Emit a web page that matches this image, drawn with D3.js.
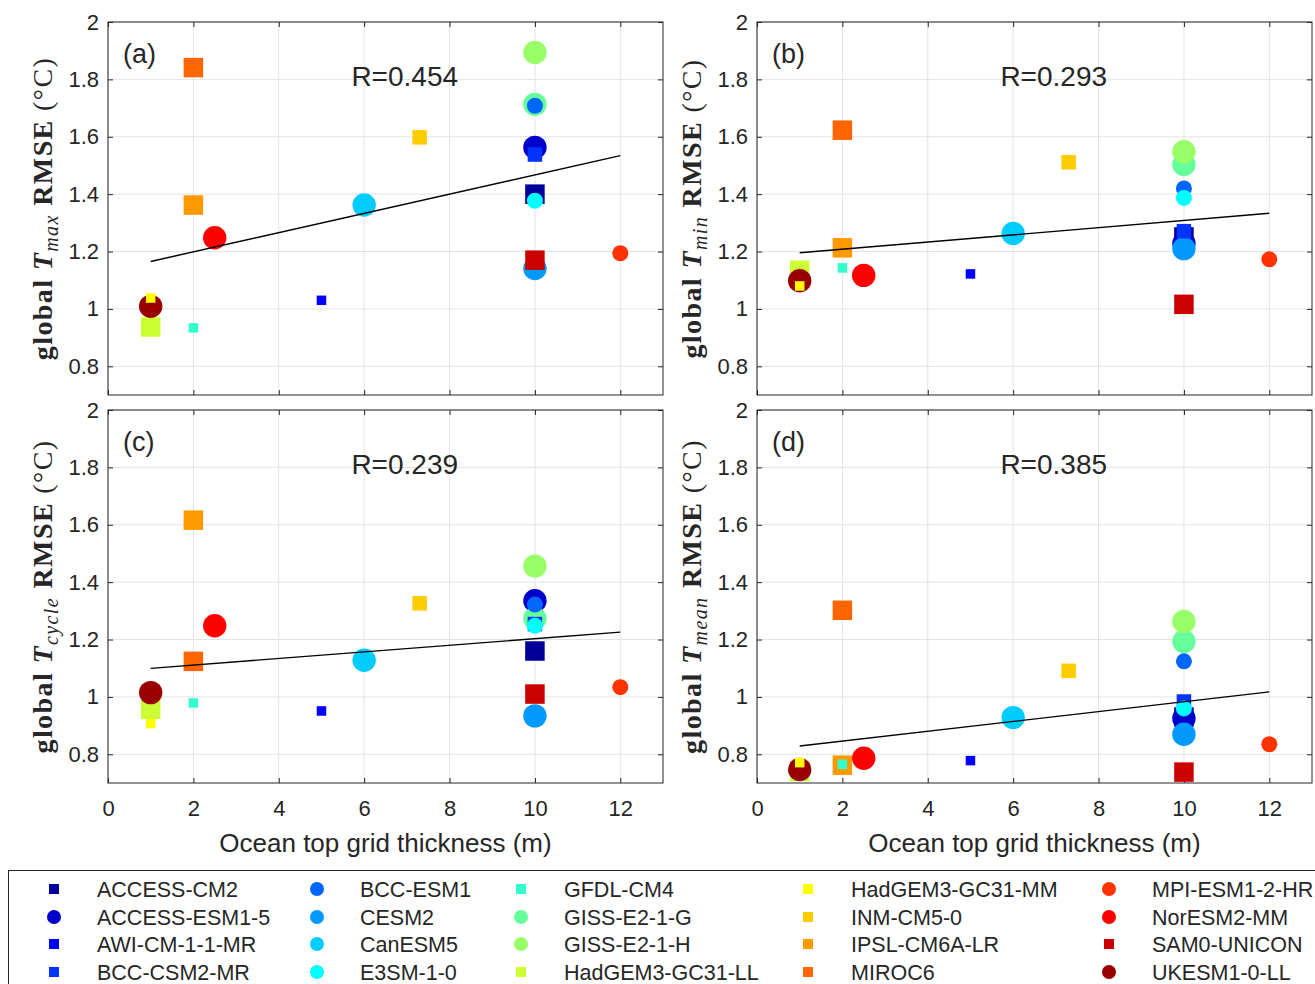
<!DOCTYPE html>
<html>
<head>
<meta charset="utf-8">
<script src="https://cdn.jsdelivr.net/npm/d3@7"></script>
<style>
  body { margin: 0; background: #fff; }
  text { font-family: "Liberation Sans", Arial, sans-serif; fill: #262626; }
  .ytitle { font-family: "Liberation Serif", "DejaVu Serif", serif; fill: #262626; letter-spacing: 1.4px; }
</style>
</head>
<body>
<div id="chart"></div>
<script>
// models, ocean top layer thickness (m), marker shape, size class (3 = big, 1 = small)
var models = ["ACCESS-CM2","ACCESS-ESM1-5","AWI-CM-1-1-MR","BCC-CSM2-MR","BCC-ESM1",
  "CESM2","CanESM5","E3SM-1-0","GFDL-CM4","GISS-E2-1-G","GISS-E2-1-H","HadGEM3-GC31-LL",
  "HadGEM3-GC31-MM","INM-CM5-0","IPSL-CM6A-LR","MIROC6","MPI-ESM1-2-HR","NorESM2-MM",
  "SAM0-UNICON","UKESM1-0-LL"];
var thickness = [10,10,5,10,10,10,6,10,2,10,10,1,1,7.3,2,2,12,2.5,10,1];
var shapes = ["s","o","s","s","o","o","o","o","s","o","o","s","s","s","s","s","o","o","s","o"];
var sizeClass = [3,3,1,2,2,3,3,2,1,3,3,3,1,2,3,3,2,3,3,3];
var colors = ["#000099","#0000cc","#0000ff","#0033ff","#0066ff","#0099ff","#00ccff","#00ffff",
  "#33ffcc","#66ff99","#99ff66","#ccff33","#ffff00","#ffcc00","#ff9900","#ff6600","#ff3300",
  "#ff0000","#cc0000","#990000"];

// RMSE (degC) per panel
var rmseTmax   = [1.40,1.563,1.03,1.538,1.708,1.141,1.362,1.377,0.934,1.713,1.894,0.937,1.038,1.598,1.362,1.841,1.194,1.248,1.17,1.009];
var rmseTmin   = [1.251,1.228,1.122,1.271,1.42,1.21,1.263,1.387,1.143,1.503,1.548,1.135,1.08,1.511,1.213,1.623,1.173,1.117,1.016,1.098];
var rmseTcycle = [1.16,1.335,0.951,1.254,1.322,0.934,1.128,1.248,0.979,1.273,1.456,0.957,0.907,1.326,1.616,1.124,1.034,1.248,1.01,1.015];
var rmseTmean  = [0.93,0.926,0.778,0.984,1.124,0.87,0.928,0.96,0.765,1.193,1.263,0.74,0.771,1.091,0.762,1.302,0.835,0.786,0.738,0.747];

var panels = [
  {tag:"(a)", sub:"max",   r:"R=0.454", vals:rmseTmax,   col:0, row:0},
  {tag:"(b)", sub:"min",   r:"R=0.293", vals:rmseTmin,   col:1, row:0},
  {tag:"(c)", sub:"cycle", r:"R=0.239", vals:rmseTcycle, col:0, row:1},
  {tag:"(d)", sub:"mean",  r:"R=0.385", vals:rmseTmean,  col:1, row:1}
];
var xTicks = [0,2,4,6,8,10,12];
var yTicks = [0.8,1,1.2,1.4,1.6,1.8,2];

var W = 1315, H = 984;
var svg = d3.select("#chart").append("svg").attr("width", W).attr("height", H);

var pw = 555, ph = 373;
var lefts = [108, 757], tops = [22, 410];

// big markers first, then smaller ones on top
var order = d3.range(models.length).sort(function(a, b) {
  return (sizeClass[b] - sizeClass[a]) || (a - b);
});
var sqSide = {1: 9.5, 2: 14.5, 3: 19.5};
var circR = {1: 5, 2: 8, 3: 11.7};

function drawMarker(g, i, cx, cy, sq, cr) {
  if (shapes[i] == "s") {
    g.append("rect").attr("x", cx - sq/2).attr("y", cy - sq/2)
      .attr("width", sq).attr("height", sq).attr("fill", colors[i]);
  } else {
    g.append("circle").attr("cx", cx).attr("cy", cy).attr("r", cr).attr("fill", colors[i]);
  }
}

panels.forEach(function(p) {
  var x0 = lefts[p.col], y0 = tops[p.row];
  var g = svg.append("g").attr("transform", "translate(" + x0 + "," + y0 + ")");
  var x = d3.scaleLinear().domain([0, 13]).range([0, pw]);
  var y = d3.scaleLinear().domain([0.7, 2]).range([ph, 0]);

  // grid
  g.selectAll(".gx").data(xTicks).enter().append("line")
    .attr("x1", d => x(d)).attr("x2", d => x(d)).attr("y1", 0).attr("y2", ph)
    .attr("stroke", "#e3e3e3").attr("stroke-width", 1);
  g.selectAll(".gy").data(yTicks).enter().append("line")
    .attr("y1", d => y(d)).attr("y2", d => y(d)).attr("x1", 0).attr("x2", pw)
    .attr("stroke", "#e3e3e3").attr("stroke-width", 1);

  // axes with inward ticks, box on
  var tk = 5;
  g.append("g").call(d3.axisLeft(y).tickValues(yTicks).tickSizeInner(-tk).tickSizeOuter(0)
      .tickPadding(9).tickFormat(d3.format("~g")))
    .call(a => a.select(".domain").remove())
    .call(a => a.selectAll("text").style("font-size", "22px").attr("fill", "#262626"))
    .call(a => a.selectAll("line").attr("stroke", "#262626"));
  g.append("g").attr("transform", "translate(" + pw + ",0)")
    .call(d3.axisRight(y).tickValues(yTicks).tickSizeInner(-tk).tickSizeOuter(0).tickFormat(""))
    .call(a => a.select(".domain").remove())
    .call(a => a.selectAll("line").attr("stroke", "#262626"));
  var xb = g.append("g").attr("transform", "translate(0," + ph + ")")
    .call(d3.axisBottom(x).tickValues(xTicks).tickSizeInner(-tk).tickSizeOuter(0).tickPadding(17))
    .call(a => a.select(".domain").remove())
    .call(a => a.selectAll("line").attr("stroke", "#262626"))
    .call(a => a.selectAll("text").style("font-size", "22px").attr("fill", "#262626"));
  if (p.row == 0) xb.selectAll("text").remove();
  g.append("g")
    .call(d3.axisTop(x).tickValues(xTicks).tickSizeInner(-tk).tickSizeOuter(0).tickFormat(""))
    .call(a => a.select(".domain").remove())
    .call(a => a.selectAll("line").attr("stroke", "#262626"));
  g.append("rect").attr("width", pw).attr("height", ph)
    .attr("fill", "none").attr("stroke", "#262626").attr("stroke-width", 1);

  // markers
  order.forEach(function(i) {
    drawMarker(g, i, x(thickness[i]), y(p.vals[i]), sqSide[sizeClass[i]], circR[sizeClass[i]]);
  });

  // least squares fit
  var mx = d3.mean(thickness), my = d3.mean(p.vals);
  var sxy = d3.sum(thickness, (t, k) => (t - mx) * (p.vals[k] - my));
  var sxx = d3.sum(thickness, t => (t - mx) * (t - mx));
  var slope = sxy / sxx, icpt = my - slope * mx;
  var ext = d3.extent(thickness);
  g.append("line")
    .attr("x1", x(ext[0])).attr("y1", y(icpt + slope * ext[0]))
    .attr("x2", x(ext[1])).attr("y2", y(icpt + slope * ext[1]))
    .attr("stroke", "#000").attr("stroke-width", 1.4);

  g.append("text").attr("x", 15).attr("y", 41).style("font-size", "27px").attr("fill", "#000").text(p.tag);
  g.append("text").attr("x", x(6.95)).attr("y", 64).attr("text-anchor", "middle")
    .style("font-size", "28px").attr("fill", "#000").text(p.r);

  // y title
  var yt = g.append("text").attr("class", "ytitle")
    .attr("transform", "translate(" + (-56) + "," + (ph / 2) + ") rotate(-90)")
    .attr("text-anchor", "middle").style("font-size", "28px");
  yt.append("tspan").attr("font-weight", "bold").text("global ");
  yt.append("tspan").attr("font-weight", "bold").attr("font-style", "italic").text("T");
  yt.append("tspan").attr("font-style", "italic").style("font-size", "20px").attr("dy", 6).text(p.sub);
  yt.append("tspan").attr("font-weight", "bold").attr("dy", -6).text(" RMSE ");
  yt.append("tspan").text("(°C)");

  if (p.row == 1) {
    g.append("text").attr("x", pw / 2).attr("y", ph + 69).attr("text-anchor", "middle")
      .style("font-size", "26px").text("Ocean top grid thickness (m)");
  }
});

// legend
var leg = svg.append("g");
leg.append("rect").attr("x", 8.5).attr("y", 870.5).attr("width", 1320).attr("height", 130)
  .attr("fill", "#fff").attr("stroke", "#262626").attr("stroke-width", 1);
var legMarkX = [54, 317, 521, 808, 1109];
var legRowY = [889, 917, 944, 972];
models.forEach(function(m, i) {
  var c = Math.floor(i / 4), r = i % 4;
  drawMarker(leg, i, legMarkX[c], legRowY[r], 10, 7);
  leg.append("text").attr("x", legMarkX[c] + 43).attr("y", legRowY[r] + 7.5)
    .style("font-size", "21.5px").attr("fill", "#000").text(m);
});
</script>
</body>
</html>
